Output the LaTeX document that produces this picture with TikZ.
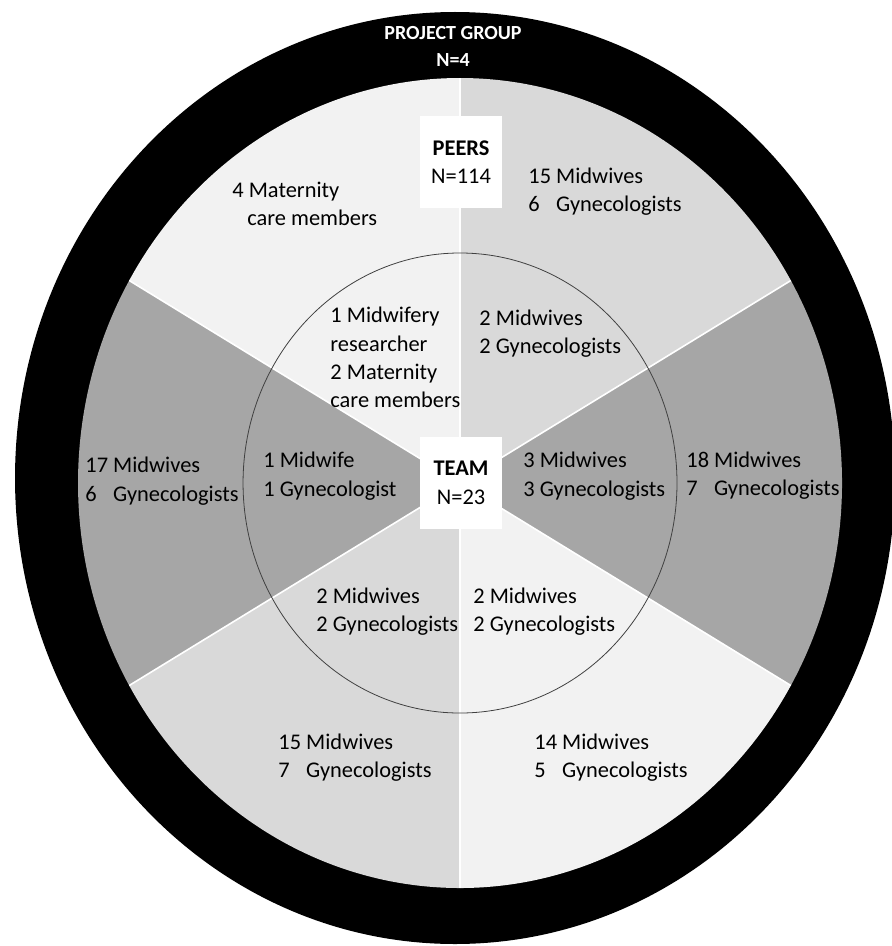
\documentclass[tikz,border=0pt]{standalone}
\usepackage{fontspec}
\setmainfont{Carlito}
\usetikzlibrary{positioning}

\definecolor{grisclaro}{HTML}{F2F2F2}
\definecolor{grismedio}{HTML}{D9D9D9}
\definecolor{grisoscuro}{HTML}{A6A6A6}

\begin{document}
\begin{tikzpicture}[
    cuadro/.style={
        fill=white,
        minimum width=1.44cm,
        minimum height=1.6cm,
        align=center,
        inner sep=0pt,
        font=\fontsize{11.2}{14.2}\selectfont
    },
    texto/.style={
        anchor=west,
        align=left,
        inner sep=0pt,
        font=\fontsize{11.2}{14.2}\selectfont
    },
    titulo/.style={
        text=white,
        align=center,
        inner sep=0pt,
        font=\fontsize{10}{13.5}\selectfont\bfseries
    }
]

% Marco fijo
\useasboundingbox (-8.084,-8.136) rectangle (7.574,8.488);

% Anillo exterior (grupo de proyecto)
\fill[black] (-0.088,0.088) ellipse [x radius=7.732cm, y radius=8.189cm];

% Sectores
\foreach \ini/\col in {-30/grisoscuro, 30/grismedio, 90/grisclaro, 150/grisoscuro, 210/grismedio, 270/grisclaro}
    \fill[\col] (0,0) -- (\ini:6.713cm and 7.117cm)
        arc[start angle=\ini, delta angle=60, x radius=6.713cm, y radius=7.117cm] -- cycle;

% Divisiones
\foreach \ang in {30,90,...,330}
    \draw[white, line width=0.8pt] (0,0) -- (\ang:6.713cm and 7.117cm);

% Circulo interior (equipo)
\draw[black!75, line width=0.4pt] (0,0) ellipse [x radius=3.813cm, y radius=4.042cm];

% Titulos
\node (proyecto) [titulo] at (-0.123,7.671) {PROJECT GROUP\\N=4};
\node (pares) [cuadro] at (0.018,5.641) {\textbf{PEERS}\\N=114};
\node (equipo) [cuadro] at (0.018,0) {\textbf{TEAM}\\N=23};

% Pares (anillo medio)
\node (paresA) [texto] at (-4.007,4.903) {4 Maternity\\\hspace*{7.5pt}care members};
\node (paresB) [texto] at (1.195,5.123) {15 Midwives\\6\hphantom{7} Gynecologists};
\node (paresC) [texto] at (3.971,0.132) {18 Midwives\\7\hphantom{7} Gynecologists};
\node (paresD) [texto] at (1.300,-4.824) {14 Midwives\\5\hphantom{7} Gynecologists};
\node (paresE) [texto] at (-3.198,-4.824) {15 Midwives\\7\hphantom{7} Gynecologists};
\node (paresF) [texto] at (-6.590,0.035) {17 Midwives\\6\hphantom{7} Gynecologists};

% Equipo (circulo interior)
\node (equipoA) [texto] at (-2.284,2.205) {1 Midwifery\\researcher\\2 Maternity\\care members};
\node (equipoB) [texto] at (0.334,2.627) {2 Midwives\\2 Gynecologists};
\node (equipoC) [texto] at (1.107,0.123) {3 Midwives\\3 Gynecologists};
\node (equipoD) [texto] at (0.228,-2.258) {2 Midwives\\2 Gynecologists};
\node (equipoE) [texto] at (-2.531,-2.258) {2 Midwives\\2 Gynecologists};
\node (equipoF) [texto] at (-3.462,0.123) {1 Midwife\\1 Gynecologist};

\end{tikzpicture}
\end{document}
